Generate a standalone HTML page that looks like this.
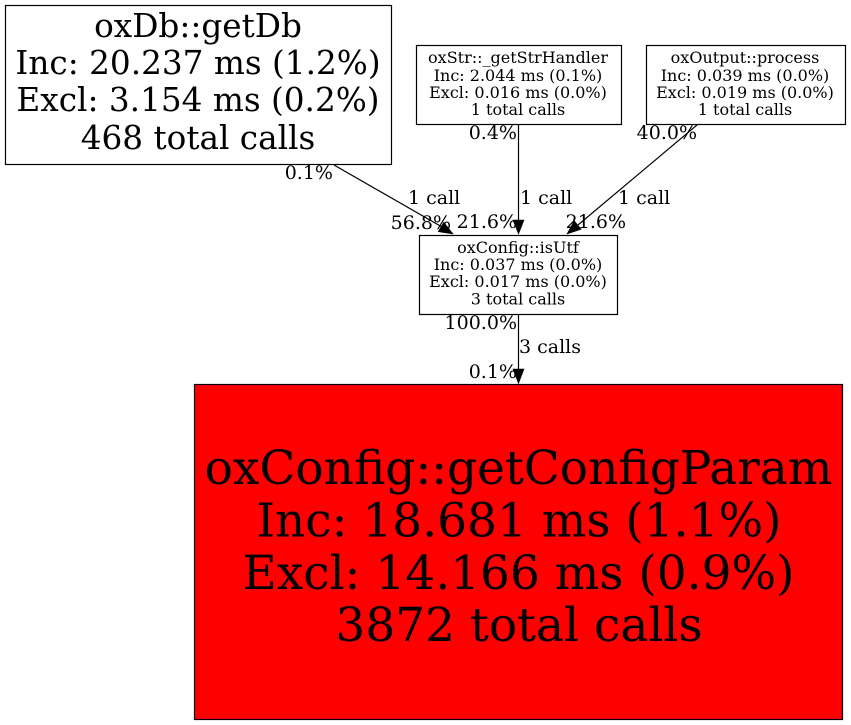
<!DOCTYPE html>
<html><head><meta charset="utf-8"><style>
html,body{margin:0;padding:0;background:#fff}
svg{display:block}
text{font-family:"DejaVu Serif",serif;fill:#000}
.m{text-anchor:middle}
.s{font-size:16px}
.l{font-size:19px}
.b{font-size:32.7px}
.h{font-size:47px}
.e{text-anchor:end;font-size:19px}
</style></head><body>
<svg width="851" height="725" viewBox="0 0 851 725" xmlns="http://www.w3.org/2000/svg">
<rect width="851" height="725" fill="#fff"/>
<g fill="none" stroke="#000" stroke-width="1.2">
<rect x="5.5" y="5.5" width="386" height="159" fill="#fff"/>
<rect x="416.5" y="45.5" width="205" height="79" fill="#fff"/>
<rect x="646.5" y="45.5" width="199" height="79" fill="#fff"/>
<rect x="419.5" y="235.5" width="198" height="79" fill="#fff"/>
<rect x="194.5" y="384.5" width="648" height="335" fill="#f00"/>
<path d="M334 165L442 227"/>
<path d="M518.5 125V222"/>
<path d="M697 125L578 225"/>
<path d="M518.5 315V372"/>
</g>
<text class="m b" x="198" y="37">oxDb::getDb</text>
<text class="m b" x="198" y="74">Inc: 20.237 ms (1.2%)</text>
<text class="m b" x="198" y="111">Excl: 3.154 ms (0.2%)</text>
<text class="m b" x="198" y="149">468 total calls</text>
<text class="m s" x="518" y="63">oxStr::_getStrHandler</text>
<text class="m s" x="518" y="81">Inc: 2.044 ms (0.1%)</text>
<text class="m s" x="518" y="98">Excl: 0.016 ms (0.0%)</text>
<text class="m s" x="518" y="115">1 total calls</text>
<text class="m s" x="745" y="63">oxOutput::process</text>
<text class="m s" x="745" y="81">Inc: 0.039 ms (0.0%)</text>
<text class="m s" x="745" y="98">Excl: 0.019 ms (0.0%)</text>
<text class="m s" x="745" y="115">1 total calls</text>
<text class="m s" x="518" y="253">oxConfig::isUtf</text>
<text class="m s" x="518" y="270">Inc: 0.037 ms (0.0%)</text>
<text class="m s" x="518" y="287">Excl: 0.017 ms (0.0%)</text>
<text class="m s" x="518" y="304.5">3 total calls</text>
<text class="m h" x="518.5" y="484">oxConfig::getConfigParam</text>
<text class="m h" x="519" y="536.5">Inc: 18.681 ms (1.1%)</text>
<text class="m h" x="518.5" y="589">Excl: 14.166 ms (0.9%)</text>
<text class="m h" x="519" y="641">3872 total calls</text>
<text class="e" x="333" y="179">0.1%</text>
<text class="e" x="517" y="139">0.4%</text>
<text class="e" x="697" y="139">40.0%</text>
<text class="l" x="408" y="204">1 call</text>
<text class="l" x="520" y="204">1 call</text>
<text class="l" x="618" y="204">1 call</text>
<text class="e" x="451" y="229">56.8%</text>
<text class="e" x="517" y="228">21.6%</text>
<text class="e" x="626" y="228">21.6%</text>
<text class="e" x="517" y="329">100.0%</text>
<text class="l" x="519" y="353">3 calls</text>
<text class="e" x="517" y="378">0.1%</text>
<g fill="#000" stroke="#000" stroke-width="0.6">
<polygon points="453,234 438.2,231.7 443.8,222.3"/>
<polygon points="518.5,234 513,220 524,220"/>
<polygon points="567,234 574.2,220.8 581.2,229.2"/>
<polygon points="518.5,383.5 513,369 524,369"/>
</g>
</svg>
</body></html>
